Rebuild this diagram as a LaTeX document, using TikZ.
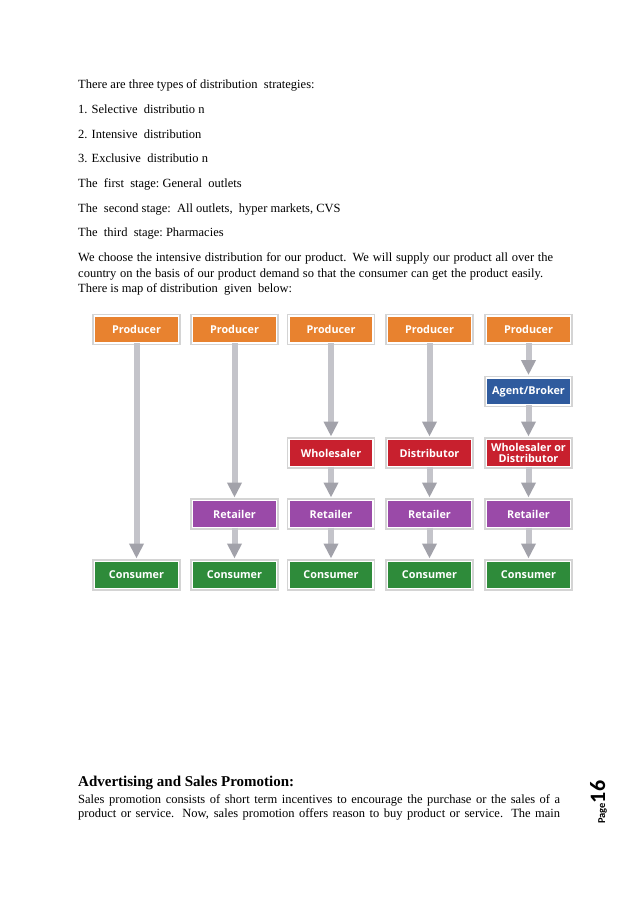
\documentclass[tikz,border=0pt]{standalone}
\usepackage{fontspec}
\setmainfont{Liberation Serif}
\newfontfamily\boxfont{Open Sans}
\newfontfamily\pagefont{Carlito}
\usetikzlibrary{arrows.meta}
\definecolor{cprod}{HTML}{E8822F}
\definecolor{cagent}{HTML}{2F5B9E}
\definecolor{cwhole}{HTML}{C8202E}
\definecolor{cret}{HTML}{9A4AA8}
\definecolor{ccons}{HTML}{2E8B3A}
\definecolor{shaft}{HTML}{C4C4CA}
\definecolor{tipc}{HTML}{A2A2AA}
\tikzset{
  box/.style={draw=white, line width=1.5pt, minimum width=84pt, minimum height=27pt,
    inner sep=0pt, outer sep=0pt, align=center, text=white,
    font=\boxfont\bfseries\fontsize{10.8}{11}\selectfont,
    preaction={draw=black!30, line width=4.5pt, opacity=0.55}},
  flow/.style={draw=shaft, line width=6pt, shorten >=3pt,
    -{Triangle[width=14pt,length=15pt,color=tipc]}},
  body/.style={anchor=base west, inner sep=0pt, font=\fontsize{12.5}{15}\selectfont}
}
\begin{document}
\begin{tikzpicture}[x=1pt,y=-1pt]
\useasboundingbox (0,0) rectangle (638,903);
\fill[white] (0,0) rectangle (638,903);
% text
\node[body] (t1) at (78,88) {There are three types of distribution\ \ strategies:};
\node[body] (t2) at (78,113) {1. Selective\ \ distributio n};
\node[body] (t3) at (78,138) {2. Intensive\ \ distribution};
\node[body] (t4) at (78,162) {3. Exclusive\ \ distributio n};
\node[body] (t5) at (78,187) {The\ \ first\ \ stage:\ General\ \ outlets};
\node[body] (t6) at (78,212) {The\ \ second stage:\ \ All outlets,\ \ hyper markets,\ CVS};
\node[body] (t7) at (78,236) {The\ \ third\ \ stage:\ Pharmacies};
\node[body] (p1) at (78,261) {\makebox[475pt][s]{We choose the intensive distribution for our product. We will supply our product all over the}};
\node[body] (p2) at (78,277) {\makebox[465pt][s]{country on the basis of our product demand so that the consumer can get the product easily.}};
\node[body] (p3) at (78,292) {There is map of distribution\ \ given\ \ below:};
% boxes
\foreach \i/\x in {1/136.5,2/234.5,3/331,4/429.5,5/528.5}{
  \node[box, fill=cprod] (prod\i) at (\x,329.5) {Producer};
  \node[box, fill=ccons] (cons\i) at (\x,575) {Consumer};
}
\foreach \i/\x in {2/234.5,3/331,4/429.5,5/528.5}{
  \node[box, fill=cret] (ret\i) at (\x,514) {Retailer};
}
\node[box, fill=cagent] (agent5) at (528.5,391.5) {Agent/Broker};
\node[box, fill=cwhole] (mid3) at (331,453) {Wholesaler};
\node[box, fill=cwhole, font=\boxfont\bfseries\fontsize{10.8}{11.5}\selectfont] (mid5) at (528.5,453) {Wholesaler or\\Distributor};
\node[box, fill=cwhole] (mid4) at (429.5,453) {Distributor};
% arrows
\draw[flow] (prod1.south) -- (cons1.north);
\draw[flow] (prod2.south) -- (ret2.north);
\draw[flow] (ret2.south) -- (cons2.north);
\draw[flow] (prod3.south) -- (mid3.north);
\draw[flow] (mid3.south) -- (ret3.north);
\draw[flow] (ret3.south) -- (cons3.north);
\draw[flow] (prod4.south) -- (mid4.north);
\draw[flow] (mid4.south) -- (ret4.north);
\draw[flow] (ret4.south) -- (cons4.north);
\draw[flow] (prod5.south) -- (agent5.north);
\draw[flow] (agent5.south) -- (mid5.north);
\draw[flow] (mid5.south) -- (ret5.north);
\draw[flow] (ret5.south) -- (cons5.north);
% bottom section
\node[anchor=base west, inner sep=0pt, font=\bfseries\fontsize{15}{17}\selectfont] (h1) at (78,786) {Advertising and Sales Promotion:};
\node[body] (s1) at (78,803) {\makebox[482pt][s]{Sales promotion consists of short term incentives to encourage the purchase or the sales of a}};
\node[body] (s2) at (78,817) {\makebox[482pt][s]{product or service. Now, sales promotion offers reason to buy product or service. The main}};
\node[anchor=base west, inner sep=0pt, rotate=90, font=\pagefont\bfseries] (pg) at (605,824) {{\fontsize{10.5}{10.5}\selectfont Page}{\fontsize{22}{22}\selectfont 16}};
\end{tikzpicture}
\end{document}
